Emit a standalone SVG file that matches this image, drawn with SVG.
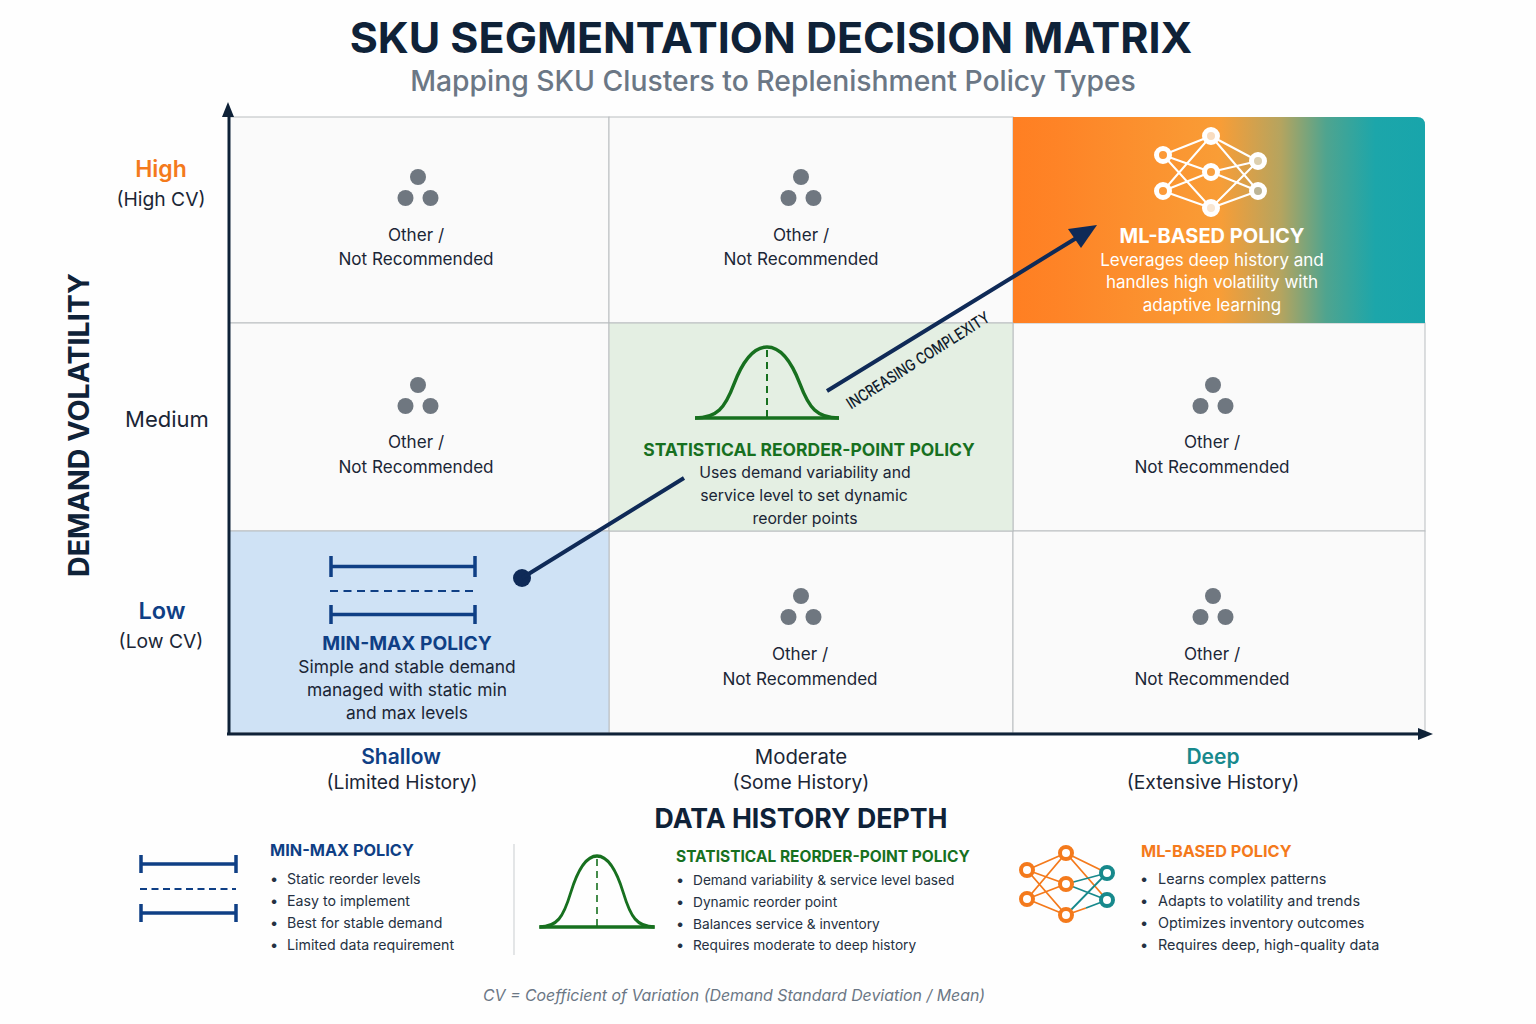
<svg xmlns="http://www.w3.org/2000/svg" width="1536" height="1024" viewBox="0 0 1536 1024">
<style>
text{font-family:Inter,"Liberation Sans",Arial,sans-serif;text-anchor:middle;fill:#1a2535}
.title{font-size:43px;font-weight:700;fill:#0f2238}
.sub{font-size:28.300px;font-weight:500;fill:#6b7785}
.cell{fill:#fafafa;stroke:#b9bdc0;stroke-width:1}
.body{font-size:17.100px;fill:#1b2636}
.ax{font-size:19.300px;fill:#1b2636}
.axb{font-size:21px;font-weight:600}
.axt{font-size:27px;font-weight:700;fill:#0f2238}
.lt{font-size:16.300px;font-weight:700;text-anchor:start}
.li{font-size:14.200px;text-anchor:start;fill:#253142}
.lm{font-size:14.400px;text-anchor:start;fill:#253142}
.ls{font-size:13.700px;text-anchor:start;fill:#253142}
.bul{font-size:14.500px;text-anchor:start;fill:#253142}
.dot{fill:#6f7780}
.blue{stroke:#0f3f85;fill:none}
.green{stroke:#17701f;fill:none}
.wl{stroke:#fff;stroke-width:2;fill:none}
.wn{stroke:#fff;stroke-width:5}
.ol{stroke:#f47a1c;stroke-width:1.800;fill:none}
.tl{stroke:#17898c;stroke-width:1.800;fill:none}
.on{fill:#fff;stroke:#f47a1c;stroke-width:4}
.tn{fill:#fff;stroke:#17898c;stroke-width:4}
</style>
<defs>
<linearGradient id="mlg" x1="0" y1="0" x2="1" y2="0">
<stop offset="0" stop-color="#ff7f22"/><stop offset="0.12" stop-color="#fe8427"/><stop offset="0.5" stop-color="#f99d36"/><stop offset="0.65" stop-color="#b5a45f"/><stop offset="0.76" stop-color="#4fa48f"/><stop offset="0.88" stop-color="#1ca6aa"/><stop offset="1" stop-color="#18a5ab"/>
</linearGradient>
<g id="dots"><circle cx="0" cy="-21" r="8" class="dot"/><circle cx="-12.500" cy="0" r="8" class="dot"/><circle cx="12.500" cy="0" r="8" class="dot"/></g>
<path id="bell" d="M-72 0C-50 0-42-10-33-34C-25-55-14-71 0-71C14-71 25-55 33-34C42-10 50 0 72 0"/>
</defs>
<rect width="1536" height="1024" fill="#fefefe"/>
<g id="header">
<text x="771" y="53" class="title">SKU SEGMENTATION DECISION MATRIX</text>
<text x="773" y="91" class="sub">Mapping SKU Clusters to Replenishment Policy Types</text>
</g>
<g id="cell-high-shallow"><rect x="229" y="117" width="380" height="206" class="cell"/><use href="#dots" x="418" y="198"/><text x="416" y="241" class="body">Other /</text><text x="416" y="265" class="body">Not Recommended</text></g>
<g id="cell-high-moderate"><rect x="609" y="117" width="404" height="206" class="cell"/><use href="#dots" x="801" y="198"/><text x="801" y="241" class="body">Other /</text><text x="801" y="265" class="body">Not Recommended</text></g>
<g id="cell-medium-shallow"><rect x="229" y="323" width="380" height="208" class="cell"/><use href="#dots" x="418" y="406"/><text x="416" y="448" class="body">Other /</text><text x="416" y="473" class="body">Not Recommended</text></g>
<g id="cell-medium-deep"><rect x="1013" y="323" width="412" height="208" class="cell"/><use href="#dots" x="1213" y="406"/><text x="1212" y="448" class="body">Other /</text><text x="1212" y="473" class="body">Not Recommended</text></g>
<g id="cell-low-moderate"><rect x="609" y="531" width="404" height="202" class="cell"/><use href="#dots" x="801" y="617"/><text x="800" y="660" class="body">Other /</text><text x="800" y="685" class="body">Not Recommended</text></g>
<g id="cell-low-deep"><rect x="1013" y="531" width="412" height="202" class="cell"/><use href="#dots" x="1213" y="617"/><text x="1212" y="660" class="body">Other /</text><text x="1212" y="685" class="body">Not Recommended</text></g>
<g id="cell-ml">
<path d="M1013 117H1417Q1425 117 1425 125V323H1013Z" fill="url(#mlg)"/>
<g class="wl"><path d="M1163 155L1211 136M1163 155L1211 172M1163 155L1211 208M1163 191L1211 136M1163 191L1211 172M1163 191L1211 208M1211 136L1258 161M1211 136L1258 191M1211 172L1258 161M1211 172L1258 191M1211 208L1258 161M1211 208L1258 191"/></g>
<g class="wn"><circle cx="1163" cy="155" r="6.500" fill="#fc9a38"/><circle cx="1163" cy="191" r="6.500" fill="#fc9a38"/><circle cx="1211" cy="172" r="6.500" fill="#f9a040"/></g>
<g class="wn"><circle cx="1211" cy="136" r="6.500" fill="#f8dcbf"/><circle cx="1211" cy="208" r="6.500" fill="#f8e6d2"/><circle cx="1258" cy="161" r="6.500" fill="#dccfae"/><circle cx="1258" cy="191" r="6.500" fill="#bdb596"/></g>
<text x="1212" y="243" font-size="20" font-weight="700" style="fill:#fff">ML-BASED POLICY</text>
<text x="1212" y="266" font-size="17" style="fill:#fff">Leverages deep history and</text>
<text x="1212" y="288" font-size="17" style="fill:#fff">handles high volatility with</text>
<text x="1212" y="311" font-size="17" style="fill:#fff">adaptive learning</text>
</g>
<g id="cell-statistical">
<rect x="609" y="323" width="404" height="208" fill="#e4efe3" stroke="#b9bdc0"/>
<g transform="translate(767 418)" class="green"><use href="#bell" stroke-width="3.500"/><path d="M-72 0H72" stroke-width="3.500"/><path d="M0-68V0" stroke-width="2" stroke-dasharray="7 5"/></g>
<text x="809" y="456" font-size="17.500" font-weight="700" style="fill:#17701f">STATISTICAL REORDER-POINT POLICY</text>
<text x="805" y="478" font-size="15.800" fill="#1b2636">Uses demand variability and</text>
<text x="804" y="501" font-size="15.800" fill="#1b2636">service level to set dynamic</text>
<text x="805" y="524" font-size="15.800" fill="#1b2636">reorder points</text>
</g>
<g id="cell-minmax">
<rect x="229" y="531" width="380" height="202" fill="#cfe2f5" stroke="#b9bdc0"/>
<g class="blue"><path d="M331 556V577M475 556V577M331 566.500H475" stroke-width="3.500"/><path d="M330 591H476" stroke-width="2" stroke-dasharray="8 5.500"/><path d="M331 605V624M475 605V624M331 614.500H475" stroke-width="3.500"/></g>
<text x="407" y="650" font-size="19.200" font-weight="700" style="fill:#0f3f85">MIN-MAX POLICY</text>
<text x="407" y="673" font-size="17.400" fill="#1b2636">Simple and stable demand</text>
<text x="407" y="696" font-size="17.400" fill="#1b2636">managed with static min</text>
<text x="407" y="719" font-size="17.400" fill="#1b2636">and max levels</text>
</g>
<g id="connectors">
<path d="M229 735V112M227 734H1422" stroke="#0f2238" stroke-width="3" fill="none"/>
<path d="M228 102L234 117H222Z" fill="#0f2238"/>
<path d="M1433 734L1418 728V740Z" fill="#0f2238"/>
<circle cx="522" cy="578" r="9" fill="#0f2a57"/>
<path d="M522 578L684 478M827 391L1078 237" stroke="#0f2a57" stroke-width="4" fill="none"/>
<path d="M1097 225L1081 248L1068 229Z" fill="#0f2a57"/>
<text transform="translate(921 365) rotate(-32.500) scale(0.8 1)" font-size="16" font-weight="500" style="fill:#101c2c">INCREASING COMPLEXITY</text>
</g>
<g id="axis-y">
<text transform="translate(89 425) rotate(-90)" class="axt" style="font-size:28.600px">DEMAND VOLATILITY</text>
<text x="161" y="177" class="axb" style="font-size:23px;fill:#f47a1c">High</text>
<text x="161" y="206" class="ax">(High CV)</text>
<text x="167" y="427" class="axb" style="font-weight:400;font-size:22px;fill:#1b2636">Medium</text>
<text x="162" y="619" class="axb" style="font-size:23.500px;fill:#0f3f85">Low</text>
<text x="161" y="648" class="ax">(Low CV)</text>
</g>
<g id="axis-x">
<text x="401" y="764" class="axb" style="fill:#0f3f85">Shallow</text>
<text x="402" y="789" class="ax">(Limited History)</text>
<text x="801" y="764" class="ax" style="font-size:20.400px">Moderate</text>
<text x="801" y="789" class="ax">(Some History)</text>
<text x="1213" y="764" class="axb" style="fill:#17898c">Deep</text>
<text x="1213" y="789" class="ax">(Extensive History)</text>
<text x="801" y="828" class="axt" style="font-size:26.700px">DATA HISTORY DEPTH</text>
</g>
<g id="legend-minmax">
<g class="blue"><path d="M141 855V873M236 855V873M141 864H236" stroke-width="3.500"/><path d="M140 889H236" stroke-width="2" stroke-dasharray="7 4.500"/><path d="M141 904V922M236 904V922M141 913H236" stroke-width="3.500"/></g>
<text x="270" y="856" class="lt" style="fill:#0f3f85">MIN-MAX POLICY</text>
<text x="270" y="884" class="bul">•</text><text x="287" y="884" class="li">Static reorder levels</text><text x="270" y="906" class="bul">•</text><text x="287" y="906" class="li">Easy to implement</text><text x="270" y="928" class="bul">•</text><text x="287" y="928" class="li">Best for stable demand</text><text x="270" y="950" class="bul">•</text><text x="287" y="950" class="li">Limited data requirement</text>
</g>
<path id="legend-divider" d="M514 844V955" stroke="#c9cdd0" stroke-width="1" fill="none"/>
<g id="legend-statistical">
<g transform="translate(597 927) scale(0.8 1)" class="green"><use href="#bell" stroke-width="3.500"/><path d="M-72 0H72" stroke-width="3.500"/><path d="M0-68V0" stroke-width="2" stroke-dasharray="7 5"/></g>
<text x="676" y="862" class="lt" style="font-size:15.500px;fill:#17701f">STATISTICAL REORDER-POINT POLICY</text>
<text x="676" y="885" class="bul">•</text><text x="693" y="885" class="ls">Demand variability &amp; service level based</text><text x="676" y="907" class="bul">•</text><text x="693" y="907" class="ls">Dynamic reorder point</text><text x="676" y="929" class="bul">•</text><text x="693" y="929" class="ls">Balances service &amp; inventory</text><text x="676" y="950" class="bul">•</text><text x="693" y="950" class="ls">Requires moderate to deep history</text>
</g>
<g id="legend-ml">
<path class="ol" d="M1027 870L1066 853M1027 870L1066 884M1027 870L1066 915M1027 899L1066 853M1027 899L1066 884M1027 899L1066 915M1066 853L1107 873M1066 853L1107 900M1066 915L1086 908"/>
<path class="tl" d="M1066 884L1107 873M1066 884L1107 900M1066 915L1107 873M1086 908L1107 900"/>
<circle cx="1027" cy="870" r="6" class="on"/><circle cx="1027" cy="899" r="6" class="on"/><circle cx="1066" cy="853" r="6" class="on"/><circle cx="1066" cy="884" r="6" class="on"/><circle cx="1066" cy="915" r="6" class="on"/><circle cx="1107" cy="873" r="6" class="tn"/><circle cx="1107" cy="900" r="6" class="tn"/>
<text x="1141" y="857" class="lt" style="fill:#f47a1c">ML-BASED POLICY</text>
<text x="1140" y="884" class="bul">•</text><text x="1158" y="884" class="lm">Learns complex patterns</text><text x="1140" y="906" class="bul">•</text><text x="1158" y="906" class="lm">Adapts to volatility and trends</text><text x="1140" y="928" class="bul">•</text><text x="1158" y="928" class="lm">Optimizes inventory outcomes</text><text x="1140" y="950" class="bul">•</text><text x="1158" y="950" class="lm">Requires deep, high-quality data</text>
</g>
<text id="footnote" x="734" y="1001" font-size="15.900" font-style="italic" style="fill:#6b7785">CV = Coefficient of Variation (Demand Standard Deviation / Mean)</text>
</svg>
